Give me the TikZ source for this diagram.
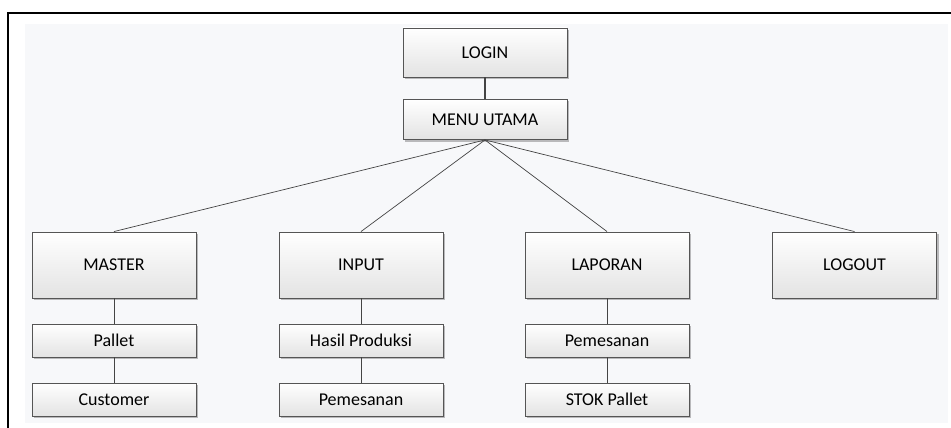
\documentclass[tikz,border=0pt]{standalone}
\usepackage{fontspec}
\setmainfont{Carlito}
\usetikzlibrary{shadows}
\definecolor{bgc}{HTML}{F7F8FA}
\definecolor{boxline}{HTML}{555555}
\definecolor{conn}{HTML}{444444}
\tikzset{
  menubox/.style={draw=boxline, line width=0.9pt, top color=white, bottom color=black!11,
    drop shadow={shadow xshift=2pt, shadow yshift=-2pt, opacity=0.25, fill=black},
    minimum width=164pt, inner sep=0pt, font=\fontsize{18}{21}\selectfont, text=black},
  bigbox/.style={menubox, minimum height=66pt},
  smallbox/.style={menubox, minimum height=33pt},
  conline/.style={draw=conn, line width=0.7pt},
}
\begin{document}
\begin{tikzpicture}[x=1pt,y=-1pt]
\useasboundingbox (0,0) rectangle (951,428);
\fill[bgc] (25,24) rectangle (948,423);
\draw[black, line width=2pt] (8,428) -- (8,13) -- (951,13);

\node[menubox, minimum height=49pt] (login) at (485,52.5) {LOGIN};
\node[menubox, minimum height=40pt] (menu) at (485,119.5) {MENU UTAMA};

\node[bigbox] (master) at (114,265) {MASTER};
\node[bigbox] (input) at (361,265) {INPUT};
\node[bigbox] (laporan) at (607,265) {LAPORAN};
\node[bigbox] (logout) at (854.5,265) {LOGOUT};

\node[smallbox] (pallet) at (114,340.5) {Pallet};
\node[smallbox] (customer) at (114,399.5) {Customer};
\node[smallbox] (hasil) at (361,340.5) {Hasil Produksi};
\node[smallbox] (pesan1) at (361,399.5) {Pemesanan};
\node[smallbox] (pesan2) at (607,340.5) {Pemesanan};
\node[smallbox] (stok) at (607,399.5) {STOK Pallet};

\draw[conline, line width=1.6pt] (login.south) -- (menu.north);
\draw[conline] (menu.south) -- (master.north);
\draw[conline] (menu.south) -- (input.north);
\draw[conline] (menu.south) -- (laporan.north);
\draw[conline] (menu.south) -- (logout.north);
\draw[conline] (master.south) -- (pallet.north);
\draw[conline] (pallet.south) -- (customer.north);
\draw[conline] (input.south) -- (hasil.north);
\draw[conline] (hasil.south) -- (pesan1.north);
\draw[conline] (laporan.south) -- (pesan2.north);
\draw[conline] (pesan2.south) -- (stok.north);
\end{tikzpicture}
\end{document}
